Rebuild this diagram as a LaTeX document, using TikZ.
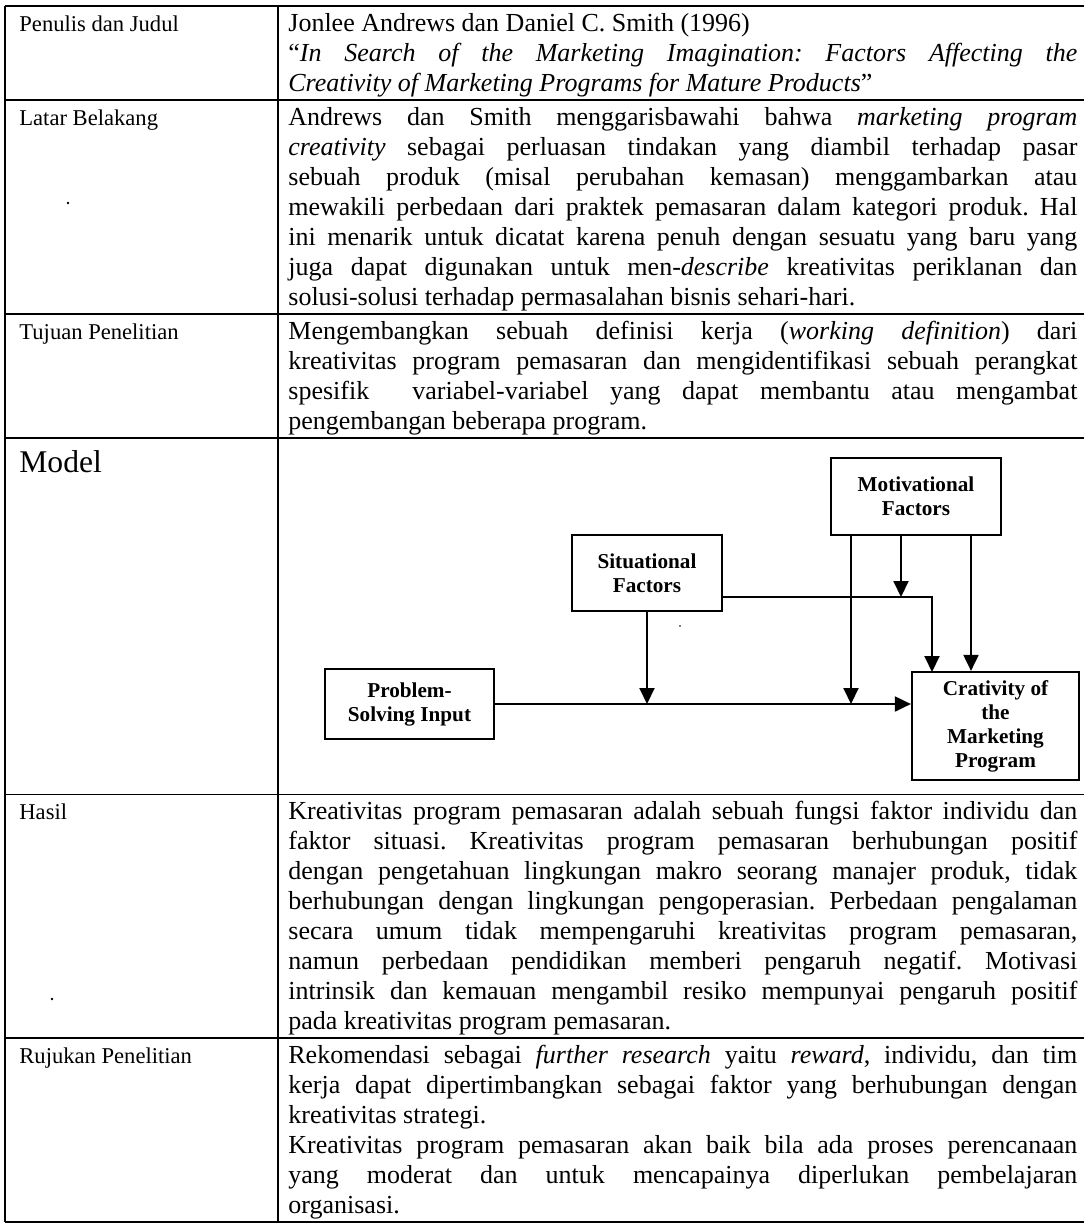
\documentclass[tikz,border=0pt]{standalone}
\usepackage{fontspec}
\setmainfont{Liberation Serif}
\usetikzlibrary{arrows.meta,calc}
\frenchspacing
\newlength\colw \setlength\colw{394.5pt}
\newcommand\ns{\frenchspacing\spaceskip=0pt\relax\xspaceskip=0pt\relax}
\newcommand\J[1]{\makebox[\colw][s]{\ns #1}}
\newcommand\bodyfont{\fontsize{13pt}{14.95pt}\selectfont}
\newcommand\labfont{\fontsize{11.3pt}{14.95pt}\selectfont}
\tikzset{
  grid/.style={line width=0.9pt},
  cell/.style={anchor=north west, inner sep=0pt, font=\bodyfont, align=left, text width=\colw},
  lab/.style={anchor=north west, inner sep=0pt, font=\labfont, align=left},
  box/.style={draw, line width=1.1pt, inner sep=0pt, align=center,
     font=\fontsize{10.6pt}{12pt}\selectfont\bfseries},
  arr/.style={line width=1pt, -{Triangle[width=7.5pt,length=8pt]}}
}
\begin{document}
\begin{tikzpicture}[x=0.5pt,y=-0.5pt]
\useasboundingbox (0,0) rectangle (1084,1227);
% table grid
\foreach \yy in {6,100.2,314,438.1,794.4,1038.1,1222}{\draw[grid] (5,\yy) -- (1084,\yy);}
\draw[grid] (5,6) -- (5,1222);
\draw[grid] (278,6) -- (278,1222);
% labels
\node[lab] (lab1) at (19,10.1) {\ns\strut Penulis dan Judul};
\node[lab] (lab2) at (19,104.3) {\ns\strut Latar Belakang};
\node[lab] (lab3) at (19,318.1) {\ns\strut Tujuan Penelitian};
\node[anchor=north west, inner sep=0pt, font=\fontsize{15.8pt}{18pt}\selectfont] (lab4) at (19,446.5) {\strut Model};
\node[lab] (lab5) at (19,798.5) {\ns\strut Hasil};
\node[lab] (lab6) at (19,1042.2) {\ns\strut Rujukan Penelitian};
% scan specks
\fill (68,203) circle (1.4);
\fill (52,999) circle (1.4);
\fill (680,626) circle (0.9);
% right cells
\node[cell] (c1) at (288,10.1) {\ns\strut Jonlee Andrews dan Daniel C. Smith (1996)\\
\J{``\textit{In Search of the Marketing Imagination: Factors Affecting the}}\\
\ns\textit{Creativity of Marketing Programs for Mature Products}''};
\node[cell] (c2) at (288,104.3) {\J{\strut Andrews dan Smith menggarisbawahi bahwa \textit{marketing program}}\\
\J{\textit{creativity} sebagai perluasan tindakan yang diambil terhadap pasar}\\
\J{sebuah produk (misal perubahan kemasan) menggambarkan atau}\\
\J{mewakili perbedaan dari praktek pemasaran dalam kategori produk. Hal}\\
\J{ini menarik untuk dicatat karena penuh dengan sesuatu yang baru yang}\\
\J{juga dapat digunakan untuk men-\textit{describe} kreativitas periklanan dan}\\
\ns solusi-solusi terhadap permasalahan bisnis sehari-hari.};
\node[cell] (c3) at (288,318.1) {\J{\strut Mengembangkan sebuah definisi kerja (\textit{working definition}) dari}\\
\J{kreativitas program pemasaran dan mengidentifikasi sebuah perangkat}\\
\J{spesifik\ \ variabel-variabel yang dapat membantu atau mengambat}\\
\ns pengembangan beberapa program.};
\node[cell] (c5) at (288,798.5) {\J{\strut Kreativitas program pemasaran adalah sebuah fungsi faktor individu dan}\\
\J{faktor situasi. Kreativitas program pemasaran berhubungan positif}\\
\J{dengan pengetahuan lingkungan makro seorang manajer produk, tidak}\\
\J{berhubungan dengan lingkungan pengoperasian. Perbedaan pengalaman}\\
\J{secara umum tidak mempengaruhi kreativitas program pemasaran,}\\
\J{namun perbedaan pendidikan memberi pengaruh negatif. Motivasi}\\
\J{intrinsik dan kemauan mengambil resiko mempunyai pengaruh positif}\\
\ns pada kreativitas program pemasaran.};
\node[cell] (c6) at (288,1042.2) {\J{\strut Rekomendasi sebagai \textit{further research} yaitu \textit{reward}, individu, dan tim}\\
\J{kerja dapat dipertimbangkan sebagai faktor yang berhubungan dengan}\\
\ns kreativitas strategi.\\
\J{Kreativitas program pemasaran akan baik bila ada proses perencanaan}\\
\J{yang moderat dan untuk mencapainya diperlukan pembelajaran}\\
\ns organisasi.};
% model diagram
\node[box, minimum width=85pt, minimum height=38.5pt] (mot) at (916,496.5) {Motivational\\Factors};
\node[box, minimum width=75pt, minimum height=38pt] (sit) at (647,573) {Situational\\Factors};
\node[box, minimum width=84.5pt, minimum height=35pt] (prob) at (409.5,704) {Problem-\\Solving Input};
\node[box, minimum width=83.5pt, minimum height=54pt] (cre) at (995.5,726) {Crativity of\\the\\Marketing\\Program};
\coordinate (mL) at (851,535);
\coordinate (mM) at (901,535);
\coordinate (mR) at (971,535);
\coordinate (sR) at (722,597);
\coordinate (cD) at (932,672);
\draw[arr] (prob.east) -- (prob.east -| cre.west);
\draw[arr] (sit.south) -- (sit.south |- prob.east);
\draw[arr] (mL) -- (mL |- prob.east);
\draw[arr] (mM) -- (mM |- sR);
\draw[arr] (sR) -| (cD);
\draw[arr] (mR) -- (mR |- cre.north);
\end{tikzpicture}
\end{document}
